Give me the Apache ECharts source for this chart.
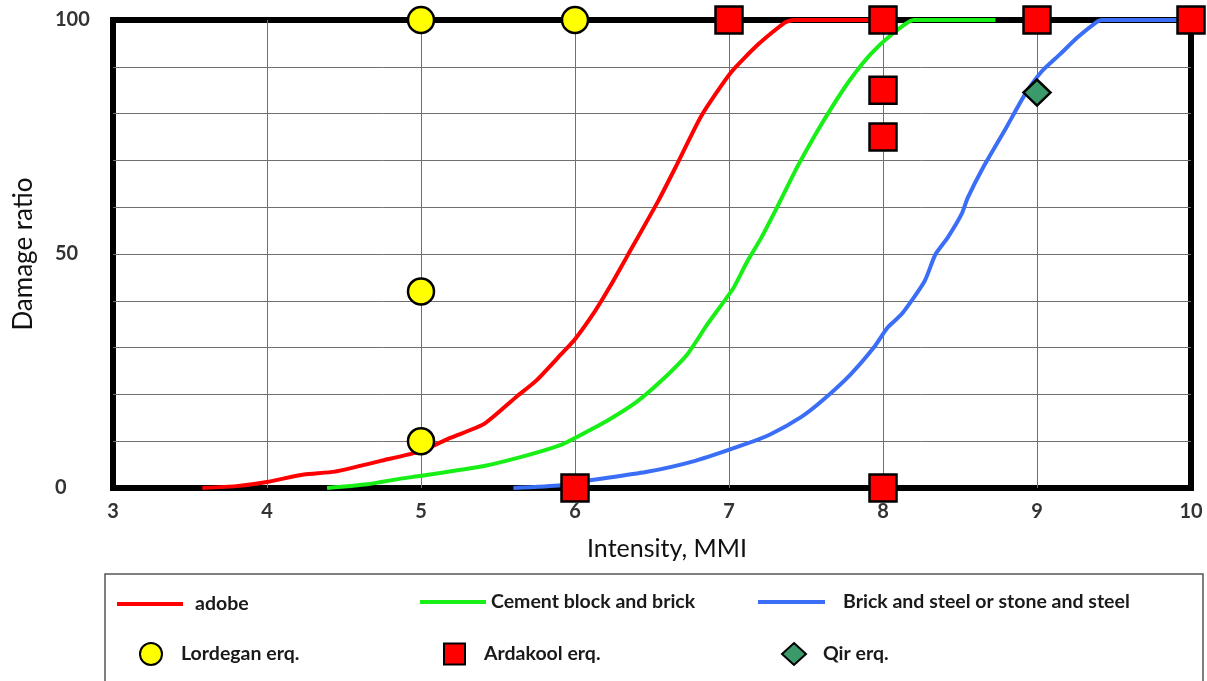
<!DOCTYPE html>
<html>
<head>
<meta charset="utf-8">
<script src="https://cdn.jsdelivr.net/npm/echarts@6/dist/echarts.min.js"></script>
<style>
  html, body { margin: 0; padding: 0; background: #fff; }
  #chart { width: 1207px; height: 681px; }
</style>
</head>
<body>
<div id="chart"></div>
<script>
// Vulnerability curves: damage ratio vs MMI intensity
const adobeX = [3.58, 3.8, 4.0, 4.24, 4.44, 4.74, 5.0, 5.19, 5.41, 5.62, 5.75, 5.91, 6.0, 6.13, 6.23, 6.34, 6.54, 6.66, 6.82, 7.01, 7.19, 7.36, 7.42, 8.0];
const adobeY = [0, 0.4, 1.3, 2.9, 3.5, 5.8, 7.9, 10.7, 13.7, 19.5, 23, 28.6, 31.8, 37.8, 43.2, 49.6, 61.3, 69, 79.5, 88.7, 94.8, 99.4, 100, 100];

const cementX = [4.39, 4.65, 4.87, 5.0, 5.41, 5.67, 5.9, 6.0, 6.22, 6.4, 6.56, 6.73, 6.86, 7.03, 7.12, 7.21, 7.32, 7.44, 7.56, 7.69, 7.79, 7.92, 8.06, 8.2, 8.73];
const cementY = [0, 0.8, 2, 2.6, 4.7, 6.8, 9.1, 10.7, 14.6, 18.4, 22.9, 28.6, 35, 42.8, 48.5, 53.5, 60.5, 68.4, 75.5, 82.5, 87.4, 92.7, 97, 100, 100];

const steelX = [5.6, 5.91, 6.09, 6.46, 6.78, 7.1, 7.27, 7.47, 7.61, 7.79, 7.94, 8.03, 8.12, 8.27, 8.34, 8.42, 8.51, 8.55, 8.65, 8.8, 8.92, 9.03, 9.15, 9.26, 9.38, 9.42, 10];
const steelY = [0, 0.6, 1.6, 3.4, 5.8, 9.3, 11.5, 15.2, 18.8, 24.3, 30, 34.3, 37.1, 44.2, 49.9, 53.5, 58.5, 62, 68.5, 77, 84, 89, 92.7, 96.2, 99.4, 100, 100];

// Observed damage from earthquakes
const lordeganX = [5, 5, 5, 6];
const lordeganY = [100, 42, 10, 100];
const ardakoolX = [6, 7, 8, 8, 8, 8, 9, 10];
const ardakoolY = [0, 100, 100, 85, 75, 0, 100, 100];
const qirX = [9];
const qirY = [84.5];

// Axis ticks
const xTicks = [3, 4, 5, 6, 7, 8, 9, 10];
const yTickLabels = [0, 50, 100];

const pairs = (xs, ys) => xs.map((x, i) => [x, ys[i]]);

const FONT = 'Lato';
const chart = echarts.init(document.getElementById('chart'), null, { renderer: 'canvas' });

const lineSeries = (name, xs, ys, color) => ({
  name, type: 'line', data: pairs(xs, ys),
  showSymbol: false, symbol: 'none',
  smooth: 0.2,
  clip: false,
  lineStyle: { color, width: 4, join: 'round', cap: 'butt' },
  itemStyle: { color },
  z: 3
});

const markerStyle = (color) => ({ color, borderColor: '#000', borderWidth: 2.5, opacity: 1 });

const legendText = { fontFamily: FONT, fontWeight: 'bold', fontSize: 19.5, color: '#1a1a1a', lineHeight: 24 };
const legendCommon = { orient: 'horizontal', selectedMode: false, padding: 0, textStyle: legendText };
const textPad = (p) => Object.assign({}, legendText, { padding: [0, 0, 0, p] });

chart.setOption({
  animation: false,
  backgroundColor: '#fff',
  grid: {
    left: 113, right: 16, top: 20, bottom: 193,
    show: true, borderColor: '#000', borderWidth: 6, backgroundColor: 'transparent'
  },
  xAxis: {
    type: 'value', min: xTicks[0], max: xTicks[xTicks.length - 1], interval: 1,
    name: 'Intensity, MMI', nameLocation: 'middle', nameGap: 48,
    nameTextStyle: { fontFamily: FONT, fontSize: 25, color: '#111', padding: [0, 0, 0, 30] },
    axisLine: { show: false }, axisTick: { show: false },
    axisLabel: {
      margin: 14, fontFamily: FONT, fontWeight: 'bold', fontSize: 20, color: '#333',
      formatter: (v) => xTicks.includes(v) ? String(v) : ''
    },
    splitLine: { show: true, showMinLine: false, showMaxLine: false, lineStyle: { color: '#707070', width: 1 } }
  },
  yAxis: {
    type: 'value', min: 0, max: 100, interval: 10,
    name: 'Damage ratio', nameLocation: 'middle', nameGap: 76,
    nameTextStyle: { fontFamily: FONT, fontSize: 26, color: '#111', padding: [0, 0, 0, 0] },
    axisLine: { show: false }, axisTick: { show: false },
    axisLabel: {
      margin: 58, align: 'left', fontFamily: FONT, fontWeight: 'bold', fontSize: 20, color: '#333',
      formatter: (v) => yTickLabels.includes(v) ? String(v) : ''
    },
    splitLine: { show: true, showMinLine: false, showMaxLine: false, lineStyle: { color: '#707070', width: 1 } }
  },
  legend: [
    Object.assign({}, legendCommon, {
      left: 117, top: 592, data: [{ name: 'adobe', icon: 'rect' }],
      itemWidth: 66, itemHeight: 4, textStyle: textPad(7)
    }),
    Object.assign({}, legendCommon, {
      left: 420, top: 590, data: [{ name: 'Cement block and brick', icon: 'rect' }],
      itemWidth: 66, itemHeight: 4
    }),
    Object.assign({}, legendCommon, {
      left: 758, top: 590, data: [{ name: 'Brick and steel or stone and steel', icon: 'rect' }],
      itemWidth: 67, itemHeight: 4, textStyle: textPad(13)
    }),
    Object.assign({}, legendCommon, {
      left: 139, top: 642, data: [{ name: 'Lordegan erq.', icon: 'circle' }],
      itemWidth: 22, itemHeight: 22, textStyle: textPad(14)
    }),
    Object.assign({}, legendCommon, {
      left: 443, top: 642, data: [{ name: 'Ardakool erq.', icon: 'rect' }],
      itemWidth: 21, itemHeight: 21, textStyle: textPad(14)
    }),
    Object.assign({}, legendCommon, {
      left: 781, top: 642, data: [{ name: 'Qir erq.', icon: 'diamond' }],
      itemWidth: 24, itemHeight: 22, textStyle: textPad(12)
    })
  ],
  graphic: [
    {
      type: 'rect', silent: true, z: -1,
      shape: { x: 105, y: 574, width: 1098, height: 130 },
      style: { fill: 'transparent', stroke: '#555', lineWidth: 1.5 }
    }
  ],
  series: [
    lineSeries('adobe', adobeX, adobeY, '#ff0000'),
    lineSeries('Cement block and brick', cementX, cementY, '#17ef17'),
    lineSeries('Brick and steel or stone and steel', steelX, steelY, '#3b6ef6'),
    {
      name: 'Lordegan erq.', type: 'scatter', data: pairs(lordeganX, lordeganY),
      symbol: 'circle', symbolSize: 26, clip: false, z: 4,
      itemStyle: markerStyle('#ffff00')
    },
    {
      name: 'Ardakool erq.', type: 'scatter', data: pairs(ardakoolX, ardakoolY),
      symbol: 'rect', symbolSize: 27, clip: false, z: 4,
      itemStyle: markerStyle('#ff0000')
    },
    {
      name: 'Qir erq.', type: 'scatter', data: pairs(qirX, qirY),
      symbol: 'diamond', symbolSize: [27, 26], clip: false, z: 4,
      itemStyle: markerStyle('#3a9a6a')
    }
  ]
});
</script>
</body>
</html>
